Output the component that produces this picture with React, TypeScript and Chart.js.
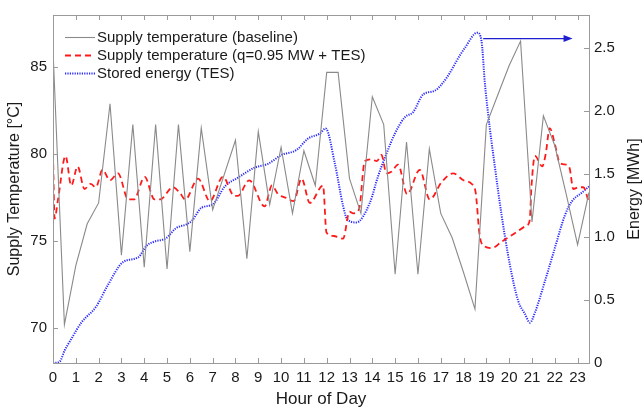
import React, { useEffect, useRef } from "react";
import { Chart, registerables } from "chart.js";

Chart.register(...registerables);

const FONT = "'Liberation Sans', Arial, Helvetica, sans-serif";

// Baseline supply temperature (°C), every half hour
const baseHours = [
  0, 0.5, 1, 1.5, 2, 2.5, 3, 3.5, 4, 4.5, 5, 5.5, 6, 6.5, 7, 7.5, 8, 8.5, 9, 9.5, 10, 10.5, 11, 11.5,
  12, 12.5, 13, 13.5, 14, 14.5, 15, 15.5, 16, 16.5, 17, 17.5, 18, 18.5, 19, 19.5, 20, 20.5, 21, 21.5,
  22, 22.5, 23, 23.5,
];
const baseTemps = [
  86.0, 70.2, 73.6, 76.0, 77.2, 82.9, 74.2, 81.7, 73.5, 81.7, 73.4, 81.7, 74.4, 81.5, 76.8, 78.8,
  80.8, 74.0, 81.3, 77.1, 80.4, 76.6, 80.2, 78.2, 84.7, 84.7, 78.6, 76.6, 83.3, 81.7, 73.1, 80.7,
  73.1, 80.3, 76.6, 75.2, 73.2, 71.1, 81.7, 83.4, 85.1, 86.5, 76.1, 82.2, 80.5, 77.7, 74.8, 77.8,
];

// Supply temperature with TES (°C)
const tesHours = [
  0, 0.07, 0.22, 0.55, 0.8, 1.08, 1.38, 1.65, 1.88, 2.17, 2.5, 2.85, 3.3, 3.55, 4.02, 4.45, 4.7,
  5.26, 5.55, 5.8, 6.36, 6.88, 7.45, 7.95, 8.1, 8.6, 9.28, 9.6, 9.87, 10.2, 10.55, 10.9, 11.26,
  11.84, 11.99, 12.3, 12.72, 13.0, 13.16, 13.42, 13.67, 13.97, 14.2, 14.4, 14.62, 14.85, 15.13,
  15.53, 16.08, 16.52, 17.04, 17.54, 18.0, 18.35, 18.53, 18.71, 18.93, 19.23, 19.67, 20.18, 20.76,
  20.9, 20.98, 21.13, 21.45, 21.6, 21.78, 22.0, 22.22, 22.5, 22.65, 22.81, 23.05, 23.25, 23.5,
];
const tesTemps = [
  80.0, 76.3, 77.4, 79.9, 78.2, 79.3, 78.0, 78.3, 78.1, 79.1, 78.5, 78.9, 77.4, 77.4, 78.7, 77.4, 77.4,
  78.1, 77.8, 77.4, 78.6, 77.3, 78.7, 77.6, 77.6, 78.5, 77.0, 78.2, 77.7, 77.5, 77.3, 78.6, 77.2,
  78.2, 75.5, 75.3, 75.15, 76.7, 76.6, 76.85, 79.6, 79.7, 79.6, 79.96, 78.9, 79.0, 79.4,
  77.7, 79.1, 77.4, 78.4, 78.9, 78.5, 78.3, 77.8, 75.3, 74.7, 74.6, 74.97, 75.4, 75.9,
  76.2, 78.2, 79.9, 79.3, 80.0, 81.5, 80.6, 79.5, 79.4, 79.2, 78.0, 78.1, 78.1, 77.2,
];

// Stored energy in TES (MWh)
const energyHours = [
  0, 0.29, 0.51, 0.8, 1.24, 1.9, 2.41, 3.07, 3.75, 4.1, 4.4, 4.95, 5.4, 5.85, 6.1, 6.5, 7.02, 7.53,
  8.11, 8.85, 9.43, 10.02, 10.68, 11.18, 11.7, 11.95, 12.36, 12.72, 12.9, 13.3, 13.89, 14.25, 14.62,
  14.99, 15.43, 15.79, 16.23, 16.74, 17.25, 17.84, 18.06, 18.6, 18.79, 18.93, 19.08, 19.37, 19.67,
  20.03, 20.4, 20.69, 20.91, 21.13, 21.57, 22.0, 22.44, 22.74, 23.18, 23.5,
];
const energyValues = [
  0.0, 0.01, 0.1, 0.19, 0.32, 0.45, 0.62, 0.8, 0.84, 0.93, 0.96, 0.99, 1.07, 1.1, 1.13, 1.23, 1.26, 1.4,
  1.47, 1.55, 1.58, 1.65, 1.69, 1.78, 1.82, 1.86, 1.58, 1.245, 1.14, 1.115, 1.27, 1.48, 1.66,
  1.82, 1.95, 1.99, 2.13, 2.16, 2.26, 2.44, 2.5, 2.62, 2.55, 2.23, 1.97, 1.56, 1.17,
  0.78, 0.49, 0.39, 0.32, 0.4, 0.65, 0.91, 1.17, 1.28, 1.35, 1.4,
];

const hourTicks = [0, 1, 2, 3, 4, 5, 6, 7, 8, 9, 10, 11, 12, 13, 14, 15, 16, 17, 18, 19, 20, 21, 22, 23];
const tempTicks = [70, 75, 80, 85];
const energyTicks = [0, 0.5, 1.0, 1.5, 2.0, 2.5];

const legendLabels = [
  "Supply temperature (baseline)",
  "Supply temperature (q=0.95 MW + TES)",
  "Stored energy (TES)",
];
const xTitle = "Hour of Day";
const yTitle = "Supply Temperature [°C]";
const y2Title = "Energy [MWh]";

// arrow annotation (data units): from hour, to hour, at energy level
const arrowFrom = 18.86;
const arrowTo = 22.78;
const arrowLevel = 2.573;

const GREY = "#8a8a8a";
const RED = "#ff1a1a";
const BLUE = "#2a2aff";
const AXIS = "#9a9a9a";
const TEXT = "#1a1a1a";

const zip = (xs: number[], ys: number[]) => xs.map((x, i) => ({ x, y: ys[i] }));

const decorPlugin = {
  id: "decor",
  afterDraw(chart: any) {
    const { ctx, chartArea: a, scales } = chart;
    const sx = scales.x, sy = scales.y, sy2 = scales.y2;
    ctx.save();
    // frame
    ctx.strokeStyle = AXIS;
    ctx.lineWidth = 1;
    ctx.setLineDash([]);
    ctx.strokeRect(Math.round(a.left) + 0.5, Math.round(a.top) + 0.5, Math.round(a.right - a.left), Math.round(a.bottom - a.top));
    const tl = 5;
    ctx.beginPath();
    hourTicks.forEach((h) => {
      const px = Math.round(sx.getPixelForValue(h)) + 0.5;
      ctx.moveTo(px, a.bottom);
      ctx.lineTo(px, a.bottom - tl);
      ctx.moveTo(px, a.top);
      ctx.lineTo(px, a.top + tl);
    });
    tempTicks.forEach((t) => {
      const py = Math.round(sy.getPixelForValue(t)) + 0.5;
      ctx.moveTo(a.left, py);
      ctx.lineTo(a.left + tl, py);
    });
    energyTicks.forEach((e) => {
      const py = Math.round(sy2.getPixelForValue(e)) + 0.5;
      ctx.moveTo(a.right, py);
      ctx.lineTo(a.right - tl, py);
    });
    ctx.stroke();

    // arrow
    const ax0 = sx.getPixelForValue(arrowFrom);
    const ax1 = sx.getPixelForValue(arrowTo);
    const ay = sy2.getPixelForValue(arrowLevel);
    ctx.strokeStyle = "#1f1fd0";
    ctx.fillStyle = "#1f1fd0";
    ctx.lineWidth = 1.2;
    ctx.beginPath();
    ctx.moveTo(ax0, ay);
    ctx.lineTo(ax1 - 6, ay);
    ctx.stroke();
    ctx.beginPath();
    ctx.moveTo(ax1, ay);
    ctx.lineTo(ax1 - 9, ay - 3.5);
    ctx.lineTo(ax1 - 9, ay + 3.5);
    ctx.closePath();
    ctx.fill();

    // legend
    const lx0 = a.left + 12, lx1 = a.left + 42, tx = a.left + 44;
    const rows = [a.top + 22.5, a.top + 40.5, a.top + 58.5];
    const styles = [
      { c: GREY, w: 1.1, d: [] as number[] },
      { c: RED, w: 1.8, d: [6, 4] },
      { c: BLUE, w: 2, d: [1.2, 1.2] },
    ];
    ctx.font = `15px ${FONT}`;
    ctx.textBaseline = "middle";
    ctx.textAlign = "left";
    rows.forEach((ry, i) => {
      const s = styles[i];
      ctx.strokeStyle = s.c;
      ctx.lineWidth = s.w;
      ctx.setLineDash(s.d);
      ctx.beginPath();
      ctx.moveTo(lx0, ry);
      ctx.lineTo(lx1, ry);
      ctx.stroke();
      ctx.setLineDash([]);
      ctx.fillStyle = TEXT;
      ctx.fillText(legendLabels[i], tx, ry + 0.5);
    });

    // axis titles
    ctx.fillStyle = TEXT;
    ctx.textAlign = "center";
    ctx.textBaseline = "middle";
    ctx.font = `17px ${FONT}`;
    ctx.fillText(xTitle, (a.left + a.right) / 2, 399);
    ctx.font = `16px ${FONT}`;
    const cy = (a.top + a.bottom) / 2;
    ctx.save();
    ctx.translate(15, cy);
    ctx.rotate(-Math.PI / 2);
    ctx.fillText(yTitle, 0, 0);
    ctx.restore();
    ctx.save();
    ctx.translate(635, cy);
    ctx.rotate(-Math.PI / 2);
    ctx.fillText(y2Title, 0, 0);
    ctx.restore();
    ctx.restore();
  },
};

export default function App() {
  const ref = useRef<HTMLCanvasElement | null>(null);
  useEffect(() => {
    document.body.style.margin = "0";
    const canvas = ref.current;
    if (!canvas) return;
    const tickFont = { family: FONT, size: 15 };
    const chart = new Chart(canvas, {
      type: "line",
      data: {
        datasets: [
          {
            label: legendLabels[0],
            data: zip(baseHours, baseTemps),
            borderColor: GREY,
            borderWidth: 1.1,
            pointRadius: 0,
            tension: 0,
            yAxisID: "y",
          },
          {
            label: legendLabels[1],
            data: zip(tesHours, tesTemps),
            borderColor: RED,
            borderWidth: 1.8,
            borderDash: [6, 4],
            pointRadius: 0,
            cubicInterpolationMode: "monotone",
            yAxisID: "y",
          },
          {
            label: legendLabels[2],
            data: zip(energyHours, energyValues),
            borderColor: BLUE,
            borderWidth: 2,
            borderDash: [1.2, 1.2],
            pointRadius: 0,
            cubicInterpolationMode: "monotone",
            yAxisID: "y2",
          },
        ],
      },
      options: {
        responsive: false,
        animation: false,
        devicePixelRatio: 1,
        layout: { padding: { top: 9.5, left: 0, right: 0, bottom: 0 } },
        plugins: { legend: { display: false }, tooltip: { enabled: false }, title: { display: false } },
        scales: {
          x: {
            type: "linear",
            min: 0,
            max: 23.5,
            afterBuildTicks: (s: any) => {
              s.ticks = hourTicks.map((v) => ({ value: v }));
            },
            afterFit: (s: any) => {
              s.height = 45;
            },
            ticks: { font: tickFont, color: TEXT, padding: 6, maxRotation: 0, autoSkip: false, callback: (v: any) => String(v) },
            grid: { display: false, drawTicks: false },
            border: { display: false },
          },
          y: {
            type: "linear",
            position: "left",
            min: 68,
            max: 88,
            afterBuildTicks: (s: any) => {
              s.ticks = tempTicks.map((v) => ({ value: v }));
            },
            afterFit: (s: any) => {
              s.width = 53;
            },
            ticks: { font: tickFont, color: TEXT, padding: 6, callback: (v: any) => String(v) },
            grid: { display: false, drawTicks: false },
            border: { display: false },
          },
          y2: {
            type: "linear",
            position: "right",
            min: 0,
            max: 2.76,
            afterBuildTicks: (s: any) => {
              s.ticks = energyTicks.map((v) => ({ value: v }));
            },
            afterFit: (s: any) => {
              s.width = 55;
            },
            ticks: {
              font: tickFont,
              color: TEXT,
              padding: 5,
              callback: (v: any) => (Number(v) === 0 ? "0" : Number(v).toFixed(1)),
            },
            grid: { display: false, drawTicks: false },
            border: { display: false },
          },
        },
      },
      plugins: [decorPlugin],
    } as any);
    return () => chart.destroy();
  }, []);
  return (
    <div style={{ width: 644, height: 408, background: "#fff" }}>
      <canvas ref={ref} width={644} height={408} style={{ display: "block" }} />
    </div>
  );
}
